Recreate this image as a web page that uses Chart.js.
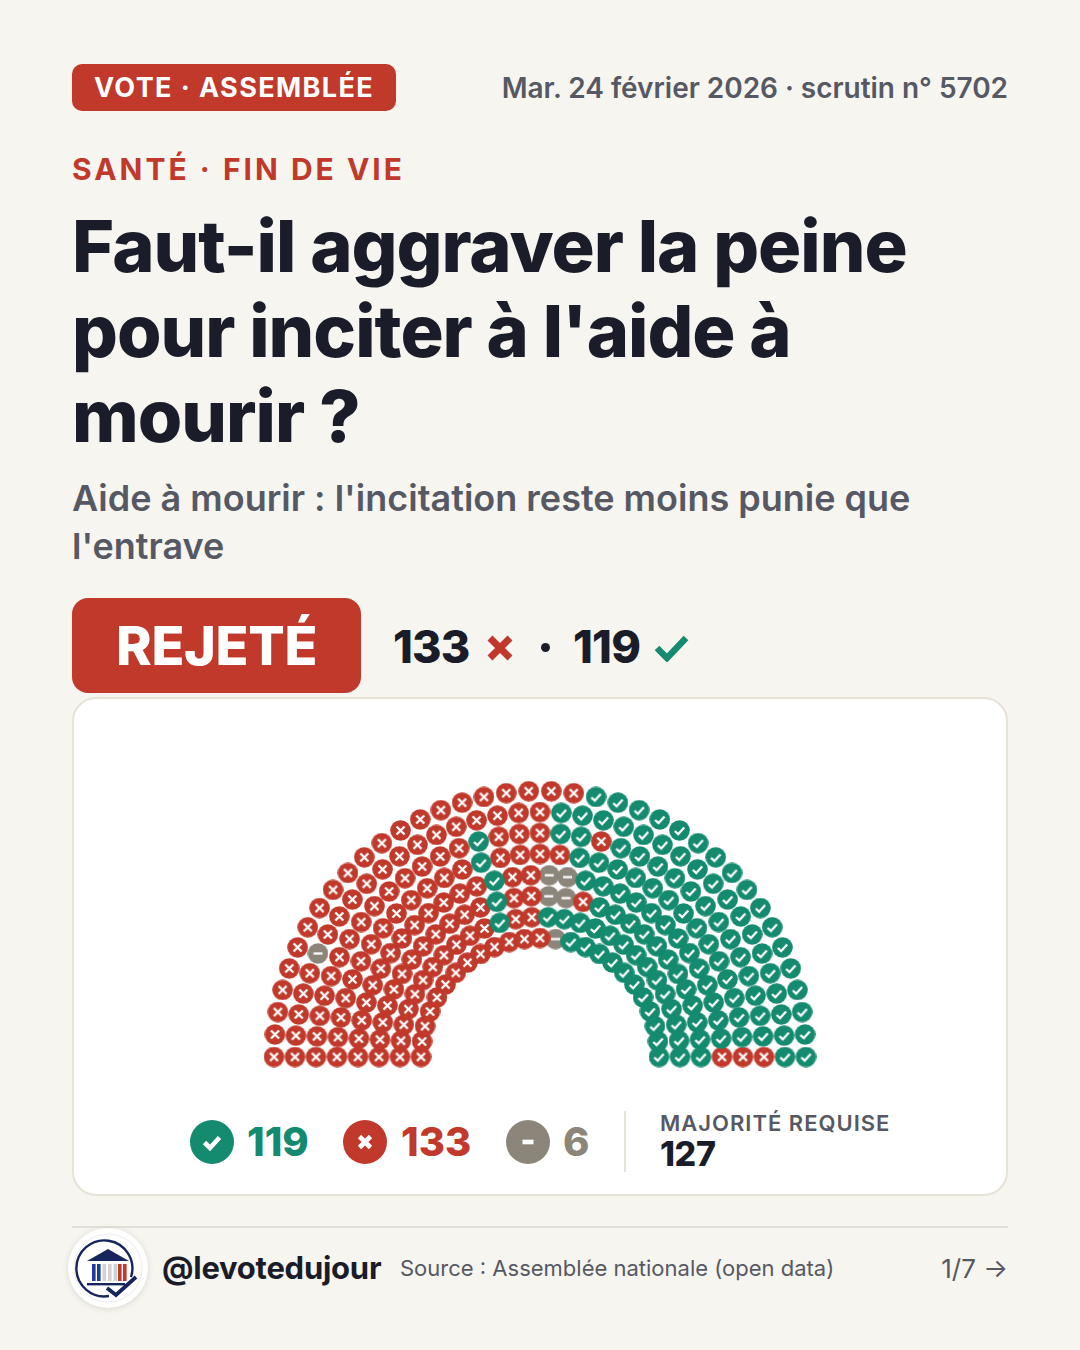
<!DOCTYPE html>
<html lang="fr">
<head>
<meta charset="utf-8">
<title>Vote Assemblée</title>
<script src="https://cdn.jsdelivr.net/npm/chart.js@4"></script>
<style>
  html,body{margin:0;padding:0;background:#f7f5f0;}
  body{width:1080px;height:1350px;position:relative;overflow:hidden;font-family:Inter,sans-serif;color:#1a1d29;}
  .abs{position:absolute;white-space:nowrap;}
  #badge{left:72px;top:64px;width:324px;height:47px;background:#c0392b;border-radius:10px;color:#fff;font-size:27px;font-weight:700;letter-spacing:1.4px;line-height:47px;text-align:center;}
  #date{right:72px;top:70px;font-size:28px;font-weight:600;color:#565963;line-height:36px;letter-spacing:-0.03px;}
  #kicker{left:72px;top:150px;font-size:30px;font-weight:700;letter-spacing:3px;color:#c0392b;line-height:38px;}
  #title{left:72px;top:203px;font-size:72px;font-weight:800;line-height:85px;letter-spacing:-1px;}
  #subtitle{left:72px;top:474px;font-size:36px;font-weight:600;line-height:48px;color:#565963;}
  #verdict{left:72px;top:598px;width:289px;height:95px;background:#c0392b;border-radius:16px;color:#fff;font-size:54px;font-weight:800;line-height:95px;letter-spacing:-0.3px;text-align:center;}
  .score{top:620px;font-size:45px;font-weight:800;line-height:54px;letter-spacing:-0.8px;}
  #card{left:72px;top:697px;width:932px;height:495px;background:#fff;border:2px solid #e6e2d8;border-radius:24px;}
  #seats{position:absolute;left:73px;top:699px;}
  .dot{width:44px;height:44px;border-radius:50%;top:1120px;}
  .count{top:1117px;font-size:40px;font-weight:800;line-height:50px;letter-spacing:0;}
  #sep{left:624px;top:1111px;width:2px;height:61px;background:#e6e2d8;}
  #majLabel{left:660px;top:1108px;font-size:22px;font-weight:600;letter-spacing:1px;color:#565963;line-height:30px;}
  #majValue{left:660px;top:1134px;font-size:34px;font-weight:800;line-height:40px;letter-spacing:-0.4px;}
  #rule{left:72px;top:1226px;width:936px;height:2px;background:#e2e0d8;}
  #logo{left:68px;top:1228px;width:80px;height:80px;border-radius:50%;background:#fff;box-shadow:0 1px 6px rgba(0,0,0,.12);}
  #handle{left:162px;top:1249px;font-size:31px;font-weight:700;line-height:38px;letter-spacing:-0.25px;}
  #source{left:400px;top:1253px;font-size:22px;font-weight:400;color:#565963;line-height:30px;}
  #page{right:72px;top:1252px;font-size:26px;font-weight:400;color:#565963;line-height:34px;}
</style>
</head>
<body>
<div class="abs" id="badge">VOTE · ASSEMBLÉE</div>
<div class="abs" id="date">Mar. 24 février 2026 · scrutin n° 5702</div>
<div class="abs" id="kicker">SANTÉ · FIN DE VIE</div>
<div class="abs" id="title">Faut-il aggraver la peine<br>pour inciter à l'aide à<br>mourir ?</div>
<div class="abs" id="subtitle">Aide à mourir : l'incitation reste moins punie que<br>l'entrave</div>
<div class="abs" id="verdict">REJETÉ</div>

<div class="abs score" style="left:393px" id="scoreAgainst"></div>
<svg class="abs" style="left:486px;top:634px" width="28" height="28" viewBox="0 0 28 28"><path d="M4 4 L24 24 M24 4 L4 24" stroke="#c0392b" stroke-width="7" fill="none"/></svg>
<div class="abs" style="left:541px;top:643px;width:9px;height:9px;border-radius:50%;background:#1a1d29"></div>
<div class="abs score" style="left:573px" id="scoreFor"></div>
<svg class="abs" style="left:654px;top:634px" width="36" height="28" viewBox="0 0 36 28"><path d="M3 14 L13 24 L32 4" stroke="#148a6e" stroke-width="6.5" fill="none"/></svg>

<div class="abs" id="card"></div>
<canvas id="seats" width="934" height="395"></canvas>

<div class="abs dot" style="left:190px;background:#148a6e"><svg width="44" height="44" viewBox="0 0 44 44"><path d="M14.5 22.5 L20 28 L29.5 17.5" stroke="#fff" stroke-width="4.6" fill="none"/></svg></div>
<div class="abs count" style="left:247px;color:#148a6e" id="countFor"></div>
<div class="abs dot" style="left:343px;background:#c0392b"><svg width="44" height="44" viewBox="0 0 44 44"><path d="M16.5 16.5 L27.5 27.5 M27.5 16.5 L16.5 27.5" stroke="#fff" stroke-width="4.6" fill="none"/></svg></div>
<div class="abs count" style="left:401px;color:#c0392b" id="countAgainst"></div>
<div class="abs dot" style="left:506px;background:#8c857a"><svg width="44" height="44" viewBox="0 0 44 44"><path d="M16.5 22 L27.5 22" stroke="#fff" stroke-width="4.6" fill="none"/></svg></div>
<div class="abs count" style="left:563px;color:#8c857a" id="countAbstain"></div>
<div class="abs" id="sep"></div>
<div class="abs" id="majLabel">MAJORITÉ REQUISE</div>
<div class="abs" id="majValue"></div>

<div class="abs" id="rule"></div>
<div class="abs" id="logo">
  <svg width="80" height="80" viewBox="0 0 80 80">
    <circle cx="40" cy="40" r="34" stroke="#ececec" stroke-width="1" fill="none"/>
    <path d="M63 49 A28 28 0 1 0 41 68" stroke="#16265c" stroke-width="2.4" fill="none"/>
    <path d="M19 33 L40 21 L61 33 Z" fill="#16265c"/>
    <rect x="24" y="36" width="3.6" height="17" fill="#1f3a93"/><rect x="29" y="36" width="3.6" height="17" fill="#1f3a93"/>
    <rect x="34.5" y="36" width="3.6" height="17" fill="#d2d2d2"/><rect x="40" y="36" width="3.6" height="17" fill="#d2d2d2"/>
    <rect x="45.5" y="36" width="3.6" height="17" fill="#d2d2d2"/><rect x="50" y="36" width="3.6" height="17" fill="#c0392b"/><rect x="55" y="36" width="3.6" height="17" fill="#c0392b"/>
    <rect x="19" y="55" width="38" height="2.4" fill="#16265c"/>
    <path d="M39 60 L48 67 L68 49" stroke="#16265c" stroke-width="3.8" fill="none"/>
  </svg>
</div>
<div class="abs" id="handle">@levotedujour</div>
<div class="abs" id="source">Source : Assemblée nationale (open data)</div>
<div class="abs" id="page">1/7 →</div>

<script>
// vote totals
const countFor = 119;
const countAgainst = 133;
const countAbstain = 6;
const majority = 127;

// hemicycle, outer row first, seats left to right
// p = pour, c = contre, a = abstention
const row1 = 'ccccccccccccccccccccc' + 'ppppppppppppppppp';
const row2 = 'cccccacccccccccccccp' + 'ppppppppppppppppp';
const row3 = 'ccccccccccccccpcccppcppppppppppppp' + 'c';
const row4 = 'cccccccccccccpccccpppppppppppppp' + 'c';
const row5 = 'cccccccccccccpccaapppppppppppppc';
const row6 = 'ccccccccccccpccaacpppppppppppp';
const row7 = 'cccccccccccpccpppppppppppppp';
const row8 = 'cccccccccccccappppppppppp';
const rows = [row1, row2, row3, row4, row5, row6, row7, row8];

const GREEN = '#148a6e', RED = '#c0392b', GREY = '#8c857a';

document.getElementById('scoreAgainst').textContent = countAgainst;
document.getElementById('scoreFor').textContent = countFor;
document.getElementById('countFor').textContent = countFor;
document.getElementById('countAgainst').textContent = countAgainst;
document.getElementById('countAbstain').textContent = countAbstain;
document.getElementById('majValue').textContent = majority;

// seat icon, used as pointStyle
function seatIcon(color, drawMark){
  const c = document.createElement('canvas');
  c.width = 21; c.height = 21;
  const ctx = c.getContext('2d');
  ctx.fillStyle = color;
  ctx.beginPath();
  ctx.arc(10.5, 10.5, 10.3, 0, Math.PI*2);
  ctx.fill();
  ctx.strokeStyle = '#fff';
  ctx.lineWidth = 2.3;
  ctx.beginPath();
  drawMark(ctx);
  ctx.stroke();
  return c;
}
const iconFor = seatIcon(GREEN, ctx => { ctx.moveTo(5.8, 11); ctx.lineTo(9.2, 14.2); ctx.lineTo(15.2, 7.5); });
const iconAgainst = seatIcon(RED, ctx => { ctx.moveTo(6.5, 6.5); ctx.lineTo(14.5, 14.5); ctx.moveTo(14.5, 6.5); ctx.lineTo(6.5, 14.5); });
const iconAbstain = seatIcon(GREY, ctx => { ctx.moveTo(6, 10.5); ctx.lineTo(15, 10.5); });

// a row is spread evenly over the half circle
function seatsOf(code){
  const out = [];
  rows.forEach((row, r) => {
    const radius = 266 - r*21;
    for(let i=0;i<row.length;i++){
      if(row[i] !== code) continue;
      const angle = Math.PI * i / (row.length-1);
      out.push({x: -radius*Math.cos(angle), y: radius*Math.sin(angle)});
    }
  });
  return out;
}

new Chart(document.getElementById('seats').getContext('2d'), {
  type: 'scatter',
  data: {
    datasets: [
      {label:'Pour', data:seatsOf('p'), pointStyle:iconFor},
      {label:'Contre', data:seatsOf('c'), pointStyle:iconAgainst},
      {label:'Abstention', data:seatsOf('a'), pointStyle:iconAbstain}
    ]
  },
  options: {
    responsive: false,
    animation: false,
    layout: {padding: 0, autoPadding: false},
    plugins: {legend:{display:false}, tooltip:{enabled:false}},
    scales: {
      x: {type:'linear', min:-467, max:467, display:false},
      y: {type:'linear', min:-37, max:358, display:false}
    }
  }
});
</script>
</body>
</html>
